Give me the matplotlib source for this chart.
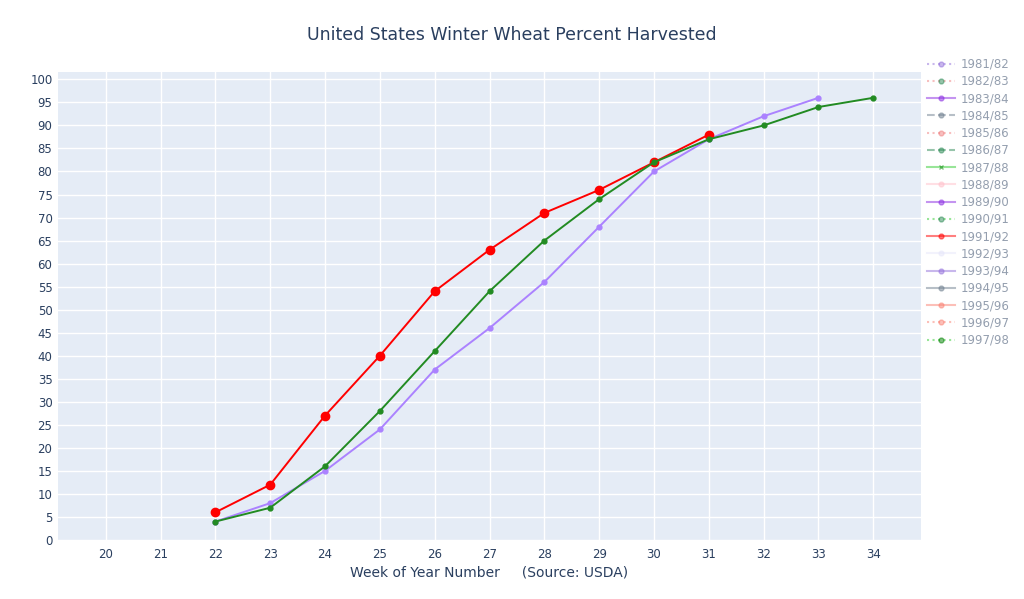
import matplotlib.pyplot as plt
from matplotlib.lines import Line2D

# visible traces
weeks_red = [22, 23, 24, 25, 26, 27, 28, 29, 30, 31]
pct_red = [6, 12, 27, 40, 54, 63, 71, 76, 82, 88]

weeks_green = [22, 23, 24, 25, 26, 27, 28, 29, 30, 31, 32, 33, 34]
pct_green = [4, 7, 16, 28, 41, 54, 65, 74, 82, 87, 90, 94, 96]

weeks_purple = [22, 23, 24, 25, 26, 27, 28, 29, 30, 31, 32, 33]
pct_purple = [4, 8, 15, 24, 37, 46, 56, 68, 80, 87, 92, 96]

# hidden (legend only) seasons
seasons = ["1981/82", "1982/83", "1983/84", "1984/85", "1985/86", "1986/87",
           "1987/88", "1988/89", "1989/90", "1990/91", "1991/92", "1992/93",
           "1993/94", "1994/95", "1995/96", "1996/97", "1997/98"]
season_colors = ["mediumpurple", "lightcoral", "blueviolet", "slategray", "lightcoral",
                 "seagreen", "limegreen", "pink", "blueviolet", "limegreen", "red",
                 "lavender", "mediumpurple", "slategray", "salmon", "salmon", "limegreen"]
season_marker_colors = ["mediumpurple", "seagreen", "blueviolet", "slategray", "lightcoral",
                        "seagreen", "green", "pink", "blueviolet", "seagreen", "red",
                        "lavender", "mediumpurple", "slategray", "salmon", "salmon", "green"]
season_styles = [":", ":", "-", "--", ":", "--", "-", "-", "-", ":", "-",
                 "-", "-", "-", "-", ":", ":"]
season_markers = ["o", "o", "o", "o", "o", "o", "x", "o", "o", "o", "o",
                  "o", "o", "o", "o", "o", "o"]

txt = "#2a3f5f"

fig = plt.figure(figsize=(10.24, 5.99), dpi=100)
ax = fig.add_axes([58 / 1024, 59 / 599, 863 / 1024, 468 / 599])
ax.set_facecolor("#e5ecf6")

ax.plot(weeks_purple, pct_purple, color="#ab82ff", lw=1.4, marker="o", ms=3.5, zorder=3)
ax.plot(weeks_red, pct_red, color="red", lw=1.4, marker="o", ms=6, zorder=4)
ax.plot(weeks_green, pct_green, color="forestgreen", lw=1.4, marker="o", ms=3.5, zorder=5)

ax.set_xlim(19.13, 34.87)
ax.set_ylim(0, 101.6)
ax.set_xticks(range(20, 35))
ax.set_yticks(range(0, 101, 5))
ax.grid(color="white", lw=1)
ax.set_axisbelow(True)
for s in ax.spines.values():
    s.set_visible(False)
ax.tick_params(length=0, labelsize=8.5, labelcolor=txt, pad=6)
ax.tick_params(axis="y", pad=4)

ax.set_xlabel("Week of Year Number     (Source: USDA)", fontsize=10, color=txt, labelpad=3)
fig.text(0.5, 1 - 35 / 599, "United States Winter Wheat Percent Harvested",
         ha="center", va="center", fontsize=12.5, color=txt)

handles = []
for c, mc, ls, mk in zip(season_colors, season_marker_colors, season_styles, season_markers):
    handles.append(Line2D([], [], color=c, ls=ls, lw=1.5, marker=mk, ms=3.5,
                          markerfacecolor=mc, markeredgecolor=mc, alpha=0.5))
leg = fig.legend(handles, seasons, loc="upper left", bbox_to_anchor=(922 / 1024, 1 - 53 / 599),
                 frameon=False, fontsize=8.5, handlelength=2.4, handletextpad=0.5,
                 labelspacing=0.36, borderaxespad=0)
for t in leg.get_texts():
    t.set_color(txt)
    t.set_alpha(0.5)

fig.savefig("out.png", dpi=100)
